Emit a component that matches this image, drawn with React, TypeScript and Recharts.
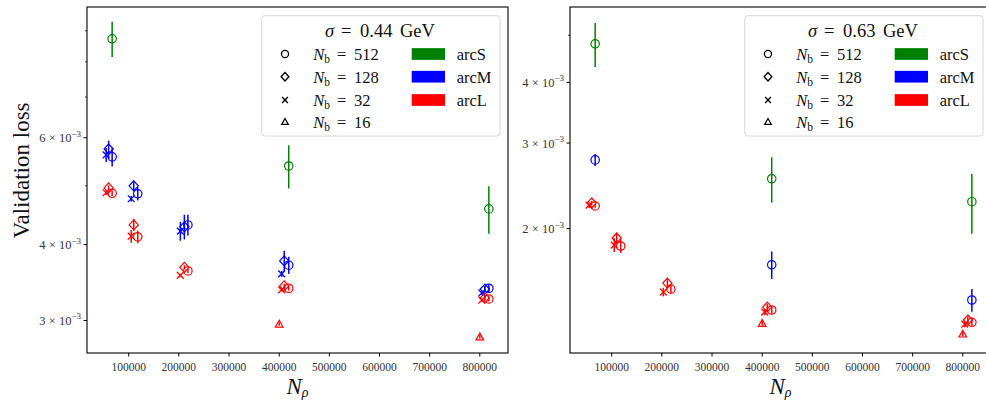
import React from 'react';
import { ScatterChart, Scatter, XAxis, YAxis, ErrorBar } from 'recharts';

const FONT = "'Liberation Serif', 'DejaVu Serif', serif";

const X_TICKS = [100000, 200000, 300000, 400000, 500000, 600000, 700000, 800000];
const X_DOMAIN = [16850, 856150];

const LEFT_Y_MAJOR = [0.003, 0.004, 0.006];
const LEFT_Y_MINOR = [0.005, 0.007, 0.008, 0.009];
const LEFT_Y_DOMAIN = [0.002652, 0.00985];
const RIGHT_Y_MAJOR = [0.002, 0.003, 0.004];
const RIGHT_Y_MINOR = [0.005];
const RIGHT_Y_DOMAIN = [0.0011094, 0.005716];

const SIGMA_LABELS = ['0.44', '0.63'];
const NB_VALUES = [512, 128, 32, 16];
const NB_MARKERS = ['circle', 'diamond', 'x', 'triangle'];
const ARC_NAMES = ['arcS', 'arcM', 'arcL'];
const ARC_COLORS = ['#008000', '#0000ff', '#ff0000'];

// ---- left panel (sigma = 0.44 GeV) ----
const L_arcS_512 = [
  { x: 67000, y: 8.73e-3, e: 0.58e-3 },
  { x: 419000, y: 5.39e-3, e: 0.44e-3 },
  { x: 818000, y: 4.58e-3, e: 0.41e-3 },
];
const L_arcM_512 = [
  { x: 67000, y: 5.58e-3, e: 0.2e-3 },
  { x: 118000, y: 4.85e-3, e: 0.12e-3 },
  { x: 218000, y: 4.31e-3, e: 0.17e-3 },
  { x: 419000, y: 3.7e-3, e: 0.12e-3 },
  { x: 818000, y: 3.39e-3, e: 0.05e-3 },
];
const L_arcM_128 = [
  { x: 60000, y: 5.75e-3, e: 0.18e-3 },
  { x: 110000, y: 5.0e-3, e: 0.1e-3 },
  { x: 211000, y: 4.28e-3, e: 0.2e-3 },
  { x: 410000, y: 3.76e-3, e: 0.15e-3 },
  { x: 810000, y: 3.38e-3, e: 0.04e-3 },
];
const L_arcM_32 = [
  { x: 55000, y: 5.62e-3, e: 0.15e-3 },
  { x: 105000, y: 4.76e-3, e: 0.05e-3 },
  { x: 203000, y: 4.21e-3, e: 0.15e-3 },
  { x: 405000, y: 3.58e-3, e: 0.04e-3 },
  { x: 804000, y: 3.33e-3, e: 0.03e-3 },
];
const L_arcL_512 = [
  { x: 67000, y: 4.86e-3, e: 0.05e-3 },
  { x: 118000, y: 4.12e-3, e: 0.1e-3 },
  { x: 218000, y: 3.62e-3, e: 0.03e-3 },
  { x: 419000, y: 3.39e-3, e: 0.03e-3 },
  { x: 818000, y: 3.255e-3, e: 0.03e-3 },
];
const L_arcL_128 = [
  { x: 60000, y: 4.96e-3, e: 0.05e-3 },
  { x: 110000, y: 4.31e-3, e: 0.1e-3 },
  { x: 211000, y: 3.67e-3, e: 0.03e-3 },
  { x: 410000, y: 3.42e-3, e: 0.03e-3 },
  { x: 810000, y: 3.27e-3, e: 0.03e-3 },
];
const L_arcL_32 = [
  { x: 55000, y: 4.87e-3, e: 0.04e-3 },
  { x: 105000, y: 4.13e-3, e: 0.1e-3 },
  { x: 203000, y: 3.56e-3, e: 0.02e-3 },
  { x: 405000, y: 3.37e-3, e: 0.02e-3 },
  { x: 804000, y: 3.24e-3, e: 0.02e-3 },
];
const L_arcL_16 = [
  { x: 400000, y: 2.96e-3, e: 0.02e-3 },
  { x: 800000, y: 2.82e-3, e: 0.02e-3 },
];

// ---- right panel (sigma = 0.63 GeV) ----
const R_arcS_512 = [
  { x: 67000, y: 4.8e-3, e: 0.5e-3 },
  { x: 419000, y: 2.533e-3, e: 0.27e-3 },
  { x: 818000, y: 2.272e-3, e: 0.32e-3 },
];
const R_arcM_512 = [
  { x: 67000, y: 2.77e-3, e: 0.08e-3 },
  { x: 419000, y: 1.685e-3, e: 0.11e-3 },
  { x: 818000, y: 1.426e-3, e: 0.077e-3 },
];
const R_arcL_512 = [
  { x: 67000, y: 2.227e-3, e: 0.02e-3 },
  { x: 118000, y: 1.842e-3, e: 0.06e-3 },
  { x: 218000, y: 1.502e-3, e: 0.03e-3 },
  { x: 419000, y: 1.36e-3, e: 0.02e-3 },
  { x: 818000, y: 1.283e-3, e: 0.02e-3 },
];
const R_arcL_128 = [
  { x: 60000, y: 2.258e-3, e: 0.02e-3 },
  { x: 110000, y: 1.913e-3, e: 0.04e-3 },
  { x: 211000, y: 1.545e-3, e: 0.03e-3 },
  { x: 410000, y: 1.379e-3, e: 0.02e-3 },
  { x: 810000, y: 1.297e-3, e: 0.02e-3 },
];
const R_arcL_32 = [
  { x: 55000, y: 2.235e-3, e: 0.03e-3 },
  { x: 105000, y: 1.85e-3, e: 0.06e-3 },
  { x: 203000, y: 1.481e-3, e: 0.03e-3 },
  { x: 405000, y: 1.347e-3, e: 0.02e-3 },
  { x: 804000, y: 1.272e-3, e: 0.02e-3 },
];
const R_arcL_16 = [
  { x: 400000, y: 1.277e-3, e: 0.015e-3 },
  { x: 800000, y: 1.214e-3, e: 0.015e-3 },
];

// series: [data, arc index, nb index]
const LEFT_SERIES: [any[], number, number][] = [
  [L_arcS_512, 0, 0],
  [L_arcM_512, 1, 0],
  [L_arcM_128, 1, 1],
  [L_arcM_32, 1, 2],
  [L_arcL_512, 2, 0],
  [L_arcL_128, 2, 1],
  [L_arcL_32, 2, 2],
  [L_arcL_16, 2, 3],
];
const RIGHT_SERIES: [any[], number, number][] = [
  [R_arcS_512, 0, 0],
  [R_arcM_512, 1, 0],
  [R_arcL_512, 2, 0],
  [R_arcL_128, 2, 1],
  [R_arcL_32, 2, 2],
  [R_arcL_16, 2, 3],
];

const PLOT_TOP = 7;
const PLOT_BOTTOM = 353;
const PLOT_W = 421;
const LEFT_PLOT_X = 87;
const RIGHT_PLOT_X = 570;

function Marker({ kind, cx, cy, color, s = 1, sw = 1.2 }: any) {
  if (kind === 'circle') {
    return <circle cx={cx} cy={cy} r={4.2 * s} fill="none" stroke={color} strokeWidth={sw} />;
  }
  if (kind === 'diamond') {
    const h = 5 * s;
    const w = 4.6 * s;
    return (
      <polygon
        points={`${cx},${cy - h} ${cx + w},${cy} ${cx},${cy + h} ${cx - w},${cy}`}
        fill="none"
        stroke={color}
        strokeWidth={sw}
      />
    );
  }
  if (kind === 'x') {
    const d = 3.4 * s;
    return (
      <g stroke={color} strokeWidth={sw + 0.1}>
        <line x1={cx - d} y1={cy - d} x2={cx + d} y2={cy + d} />
        <line x1={cx - d} y1={cy + d} x2={cx + d} y2={cy - d} />
      </g>
    );
  }
  const a = 3.8 * s;
  return (
    <polygon
      points={`${cx},${cy - a} ${cx + a},${cy + a * 0.8} ${cx - a},${cy + a * 0.8}`}
      fill="none"
      stroke={color}
      strokeWidth={sw}
    />
  );
}

const makeShape = (kind: string, color: string) => (props: any) => {
  const { cx, cy } = props;
  if (cx == null || cy == null || isNaN(cx) || isNaN(cy)) return <g />;
  return <Marker kind={kind} cx={cx} cy={cy} color={color} />;
};

const renderXTick = (props: any) => {
  const { x, y, payload } = props;
  return (
    <g>
      <line x1={x} x2={x} y1={y} y2={y + 3.5} stroke="#000" strokeWidth={1} />
      <text x={x} y={y + 17.5} textAnchor="middle" fontFamily={FONT} fontSize={11.5} fill="#333">
        {String(payload.value)}
      </text>
    </g>
  );
};

const makeYTick = (major: number[]) => (props: any) => {
  const { x, y, payload } = props;
  const v = payload.value;
  const isMajor = major.some((m) => Math.abs(m - v) < 1e-9);
  const mant = Math.round(v * 1000);
  return (
    <g>
      <line x1={x - (isMajor ? 3.5 : 2)} x2={x} y1={y} y2={y} stroke="#000" strokeWidth={isMajor ? 1 : 0.8} />
      {isMajor && (
        <text x={x - 6} y={y + 4.5} textAnchor="end" fontFamily={FONT} fontSize={12.5} fill="#333">
          {`${mant} × 10`}
          <tspan dy={-5.5} fontSize={9}>−3</tspan>
        </text>
      )}
    </g>
  );
};

function Panel({ left, width, yAxisWidth, marginRight, yDomain, yMajor, yMinor, series }: any) {
  const yTicks = [...yMajor, ...yMinor].sort((a: number, b: number) => a - b);
  return (
    <div style={{ position: 'absolute', left, top: 0 }}>
      <ScatterChart width={width} height={401} margin={{ top: PLOT_TOP, right: marginRight, bottom: 0, left: 0 }}>
        <XAxis
          type="number"
          dataKey="x"
          domain={X_DOMAIN}
          ticks={X_TICKS}
          allowDataOverflow
          height={48}
          tickSize={0}
          tickMargin={0}
          axisLine={false}
          tickLine={false}
          interval={0}
          tick={renderXTick}
        />
        <YAxis
          type="number"
          dataKey="y"
          scale="log"
          domain={yDomain}
          ticks={yTicks}
          allowDataOverflow
          width={yAxisWidth}
          tickSize={0}
          tickMargin={0}
          axisLine={false}
          tickLine={false}
          interval={0}
          tick={makeYTick(yMajor)}
        />
        {series.map(([data, arc, nb]: any, i: number) => (
          <Scatter
            key={i}
            data={data}
            isAnimationActive={false}
            shape={makeShape(NB_MARKERS[nb], ARC_COLORS[arc])}
          >
            <ErrorBar dataKey="e" direction="y" width={0} stroke={ARC_COLORS[arc]} strokeWidth={1.5} />
          </Scatter>
        ))}
      </ScatterChart>
    </div>
  );
}

function Legend({ L, sigma }: any) {
  const rows = [54, 76.7, 100, 121.7];
  return (
    <g fontFamily={FONT} fill="#111">
      <rect x={L + 174.7} y={15.7} width={238.3} height={120.3} rx={3} fill="#fff" fillOpacity={0.8} stroke="#d6d6d6" strokeWidth={1} />
      <text fontSize={18.5} y={36.7}>
        <tspan x={L + 238} fontStyle="italic">σ</tspan>
        <tspan x={L + 254}>=</tspan>
        <tspan x={L + 273}>{sigma}</tspan>
        <tspan x={L + 313}>GeV</tspan>
      </text>
      {NB_VALUES.map((nb, i) => (
        <g key={nb}>
          <Marker kind={NB_MARKERS[i]} cx={L + 198} cy={rows[i]} color="#000" s={0.85} sw={1.3} />
          <text fontSize={16.5} y={rows[i] + 6}>
            <tspan x={L + 226.3} fontStyle="italic">N</tspan>
            <tspan fontSize={11.5} dy={3}>b</tspan>
            <tspan x={L + 250} dy={-3}>=</tspan>
            <tspan x={L + 267}>{nb}</tspan>
          </text>
        </g>
      ))}
      {ARC_NAMES.map((name, i) => (
        <g key={name}>
          <rect x={L + 324.7} y={rows[i] - 5.85} width={33.3} height={11.7} fill={ARC_COLORS[i]} />
          <text x={L + 369.7} y={rows[i] + 6} fontSize={16.5}>
            {name}
          </text>
        </g>
      ))}
    </g>
  );
}

export default function App() {
  return (
    <div
      style={{
        position: 'absolute',
        left: 0,
        top: 0,
        width: 986,
        height: 401,
        overflow: 'hidden',
        background: '#fff',
      }}
    >
      <Panel
        left={0}
        width={510}
        yAxisWidth={LEFT_PLOT_X}
        marginRight={510 - LEFT_PLOT_X - PLOT_W}
        yDomain={LEFT_Y_DOMAIN}
        yMajor={LEFT_Y_MAJOR}
        yMinor={LEFT_Y_MINOR}
        series={LEFT_SERIES}
      />
      <Panel
        left={490}
        width={520}
        yAxisWidth={RIGHT_PLOT_X - 490}
        marginRight={520 - (RIGHT_PLOT_X - 490) - PLOT_W}
        yDomain={RIGHT_Y_DOMAIN}
        yMajor={RIGHT_Y_MAJOR}
        yMinor={RIGHT_Y_MINOR}
        series={RIGHT_SERIES}
      />
      <svg
        width={986}
        height={401}
        style={{ position: 'absolute', left: 0, top: 0, pointerEvents: 'none' }}
      >
        <rect x={LEFT_PLOT_X} y={PLOT_TOP} width={PLOT_W} height={PLOT_BOTTOM - PLOT_TOP} fill="none" stroke="#000" strokeWidth={1.1} />
        <rect x={RIGHT_PLOT_X} y={PLOT_TOP} width={PLOT_W} height={PLOT_BOTTOM - PLOT_TOP} fill="none" stroke="#000" strokeWidth={1.1} />
        <Legend L={LEFT_PLOT_X} sigma={SIGMA_LABELS[0]} />
        <Legend L={RIGHT_PLOT_X} sigma={SIGMA_LABELS[1]} />
        <text transform="rotate(-90)" x={-170.5} y={29} textAnchor="middle" fontFamily={FONT} fontSize={23} fill="#111">
          Validation loss
        </text>
        {[LEFT_PLOT_X, RIGHT_PLOT_X].map((L) => (
          <text key={L} x={L + PLOT_W / 2} y={394} textAnchor="middle" fontFamily={FONT} fontSize={23} fill="#111">
            <tspan fontStyle="italic">N</tspan>
            <tspan fontStyle="italic" fontSize={14} dy={3}>ρ</tspan>
          </text>
        ))}
      </svg>
    </div>
  );
}
